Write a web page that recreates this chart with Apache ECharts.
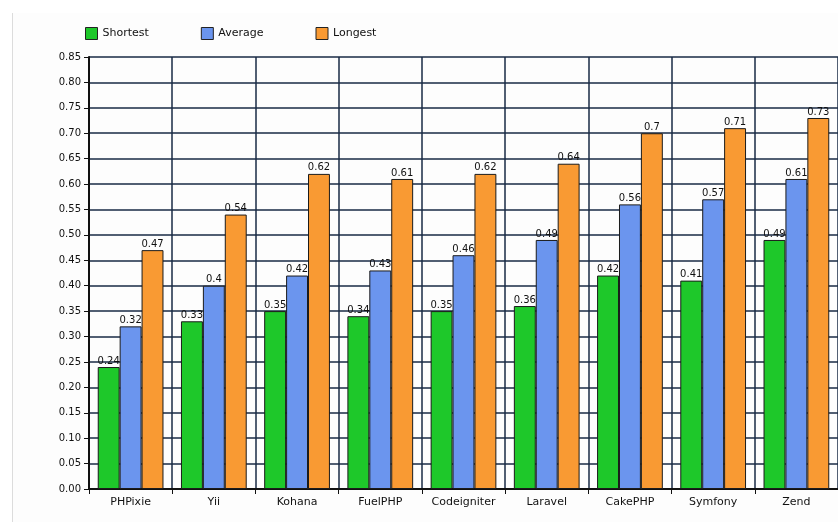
<!DOCTYPE html>
<html><head><meta charset="utf-8">
<script src="https://cdn.jsdelivr.net/npm/echarts@6/dist/echarts.min.js"></script>
<style>html,body{margin:0;padding:0;background:#fff}#c{width:838px;height:522px}</style>
</head><body><div id="c"></div>
<script>
const categories = ['PHPixie','Yii','Kohana','FuelPHP','Codeigniter','Laravel','CakePHP','Symfony','Zend'];
const shortest = [0.24,0.33,0.35,0.34,0.35,0.36,0.42,0.41,0.49];
const average  = [0.32,0.40,0.42,0.43,0.46,0.49,0.56,0.57,0.61];
const longest  = [0.47,0.54,0.62,0.61,0.62,0.64,0.70,0.71,0.73];
const seriesNames = ['Shortest','Average','Longest'];
const colors = ['#1ec82a','#6b95ee','#f99a33'];

const chart = echarts.init(document.getElementById('c'));
const mk = (name, data, color) => ({
  name, type:'bar', data, barGap:'0%', barCategoryGap:'21%',
  itemStyle:{color, borderColor:'#1b1b1b', borderWidth:1},
  label:{show:true, position:'top', distance:1, color:'#111', fontSize:10, fontFamily:'DejaVu Sans',
    formatter:p=>String(p.value)}
});
chart.setOption({
  animation:false,
  backgroundColor:'#fff',
  graphic:[
    {type:'rect', left:13, top:13, shape:{width:830, height:520}, style:{fill:'#fdfdfd'}, z:-10},
    {type:'line', shape:{x1:12.5, y1:13, x2:12.5, y2:522}, style:{stroke:'#dcdcdc', lineWidth:1}, z:-9}
  ],
  legend:{left:80, top:22, itemWidth:12, itemHeight:12, itemGap:52, icon:'rect',
    textStyle:{fontSize:11, color:'#111', fontFamily:'DejaVu Sans'},
    itemStyle:{borderColor:'#222', borderWidth:1}, data:seriesNames},
  grid:{left:89, right:-3, top:57, bottom:33},
  xAxis:{type:'category', data:categories,
    axisLine:{lineStyle:{color:'#111', width:2}},
    axisTick:{show:true, length:5, lineStyle:{color:'#111'}},
    splitLine:{show:true, lineStyle:{color:'#182a44', width:1.5}},
    axisLabel:{color:'#111', fontSize:11, fontFamily:'DejaVu Sans', margin:8}},
  yAxis:{type:'value', min:0, max:0.85, interval:0.05,
    axisLine:{show:true, lineStyle:{color:'#111', width:2}},
    axisTick:{show:true, length:5, lineStyle:{color:'#111'}},
    splitLine:{show:true, lineStyle:{color:'#182a44', width:1.5}},
    axisLabel:{color:'#111', fontSize:10, fontFamily:'DejaVu Sans', margin:8, formatter:v=>v.toFixed(2)}},
  series:[mk(seriesNames[0], shortest, colors[0]), mk(seriesNames[1], average, colors[1]), mk(seriesNames[2], longest, colors[2])]
});
</script></body></html>
